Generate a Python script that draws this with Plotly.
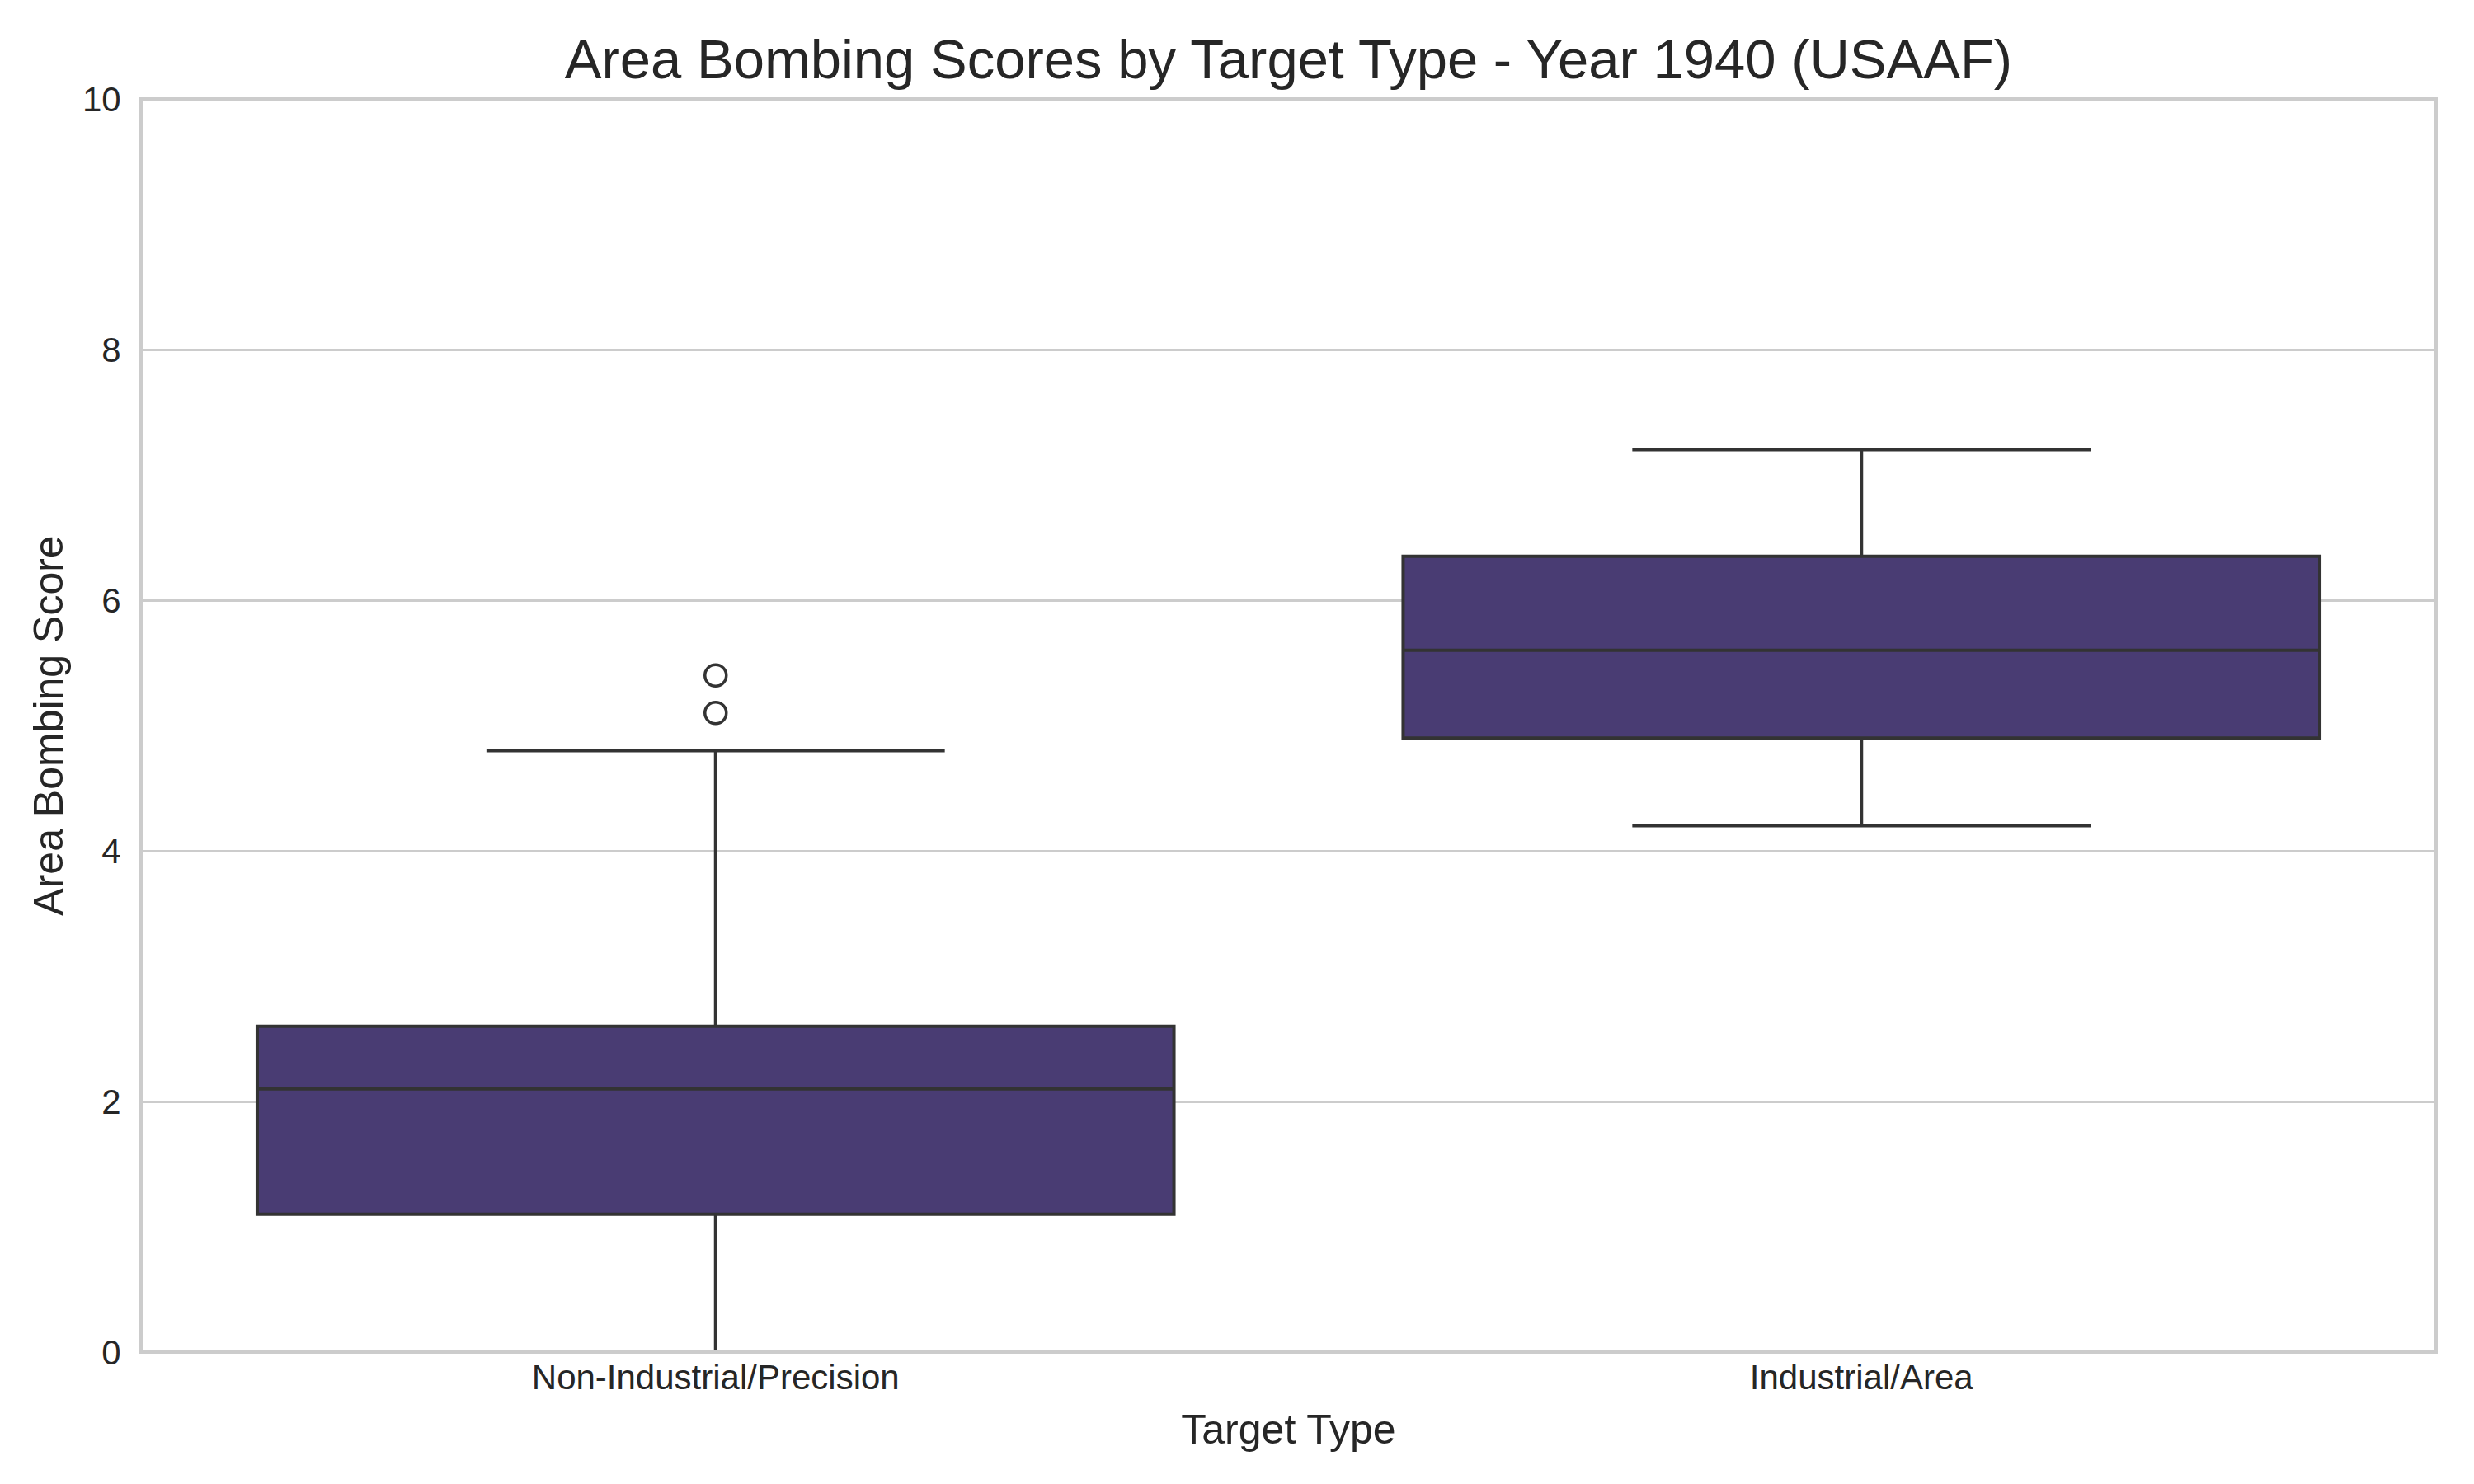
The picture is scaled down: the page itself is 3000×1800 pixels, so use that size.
import plotly.graph_objects as go

target_types = ['Non-Industrial/Precision', 'Industrial/Area']
q1 = [1.1, 4.9]
median = [2.1, 5.6]
q3 = [2.6, 6.35]
lower_whisker = [0.0, 4.2]
upper_whisker = [4.8, 7.2]

outlier_types = ['Non-Industrial/Precision', 'Non-Industrial/Precision']
outlier_scores = [5.1, 5.4]

font = 'Liberation Sans, Arial, sans-serif'
box_color = '#493c73'
line_color = '#333333'
spine_color = '#cccccc'

fig = go.Figure()

fig.add_trace(go.Box(
    x=target_types, q1=q1, median=median, q3=q3,
    lowerfence=lower_whisker, upperfence=upper_whisker,
    boxpoints=False, width=0.8, whiskerwidth=0.5,
    fillcolor=box_color, line=dict(color=line_color, width=4),
    showlegend=False, hoverinfo='skip'
))

fig.add_trace(go.Scatter(
    x=outlier_types, y=outlier_scores, mode='markers',
    marker=dict(symbol='circle-open', size=26, color=line_color,
                line=dict(width=3.5, color=line_color)),
    showlegend=False
))

# top and bottom spines drawn over the marks, like matplotlib does
plot_w = 3000 - 165 - 56
ext = 4 / plot_w
for yy in (0, 1):
    fig.add_shape(type='line', xref='paper', yref='paper', x0=-ext, x1=1 + ext,
                  y0=yy, y1=yy, line=dict(color=spine_color, width=4), layer='above')

fig.update_layout(
    width=3000, height=1800,
    margin=dict(l=165, r=56, t=112, b=168),
    paper_bgcolor='white', plot_bgcolor='white',
    font=dict(family=font, color='#262626'),
    title=dict(text='Area Bombing Scores by Target Type - Year 1940 (USAAF)',
               x=0.5, xref='paper', y=1 - 64 / 1800, yanchor='middle',
               font=dict(size=67, color='#262626')),
)

fig.update_xaxes(
    type='category', range=[-0.5, 1.5],
    showgrid=False, zeroline=False, showline=False,
    ticks='', ticklabelstandoff=2,
    tickfont=dict(size=42, color='#262626'),
    title=dict(text='Target Type', font=dict(size=50, color='#262626'), standoff=22)
)

fig.update_yaxes(
    range=[0, 10], tickvals=[0, 2, 4, 6, 8, 10],
    showgrid=True, gridcolor=spine_color, gridwidth=3, zeroline=False,
    showline=True, mirror=True, linecolor=spine_color, linewidth=4,
    ticks='outside', ticklen=14, tickcolor='rgba(0,0,0,0)',
    tickfont=dict(size=42, color='#262626'),
    title=dict(text='Area Bombing Score', font=dict(size=50, color='#262626'), standoff=8)
)

fig.write_html('out.html')
